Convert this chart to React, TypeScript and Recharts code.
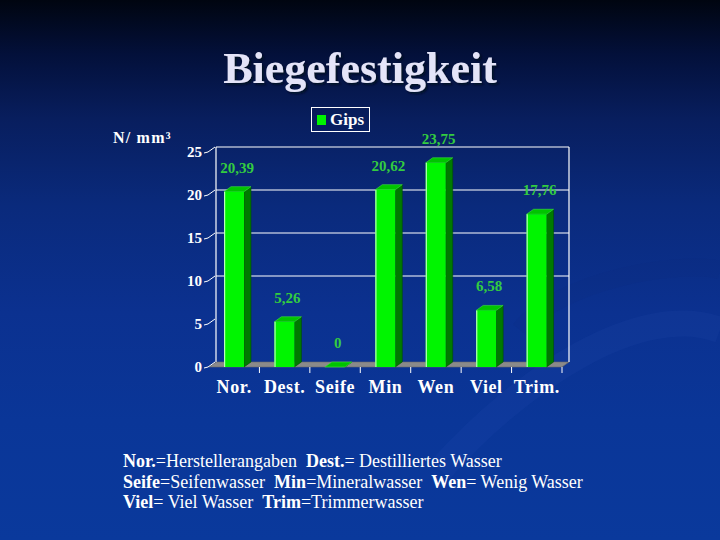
import React from 'react';
import { BarChart, Bar, XAxis, YAxis, CartesianGrid, LabelList, Legend } from 'recharts';

const categories = ['Nor.', 'Dest.', 'Seife', 'Min', 'Wen', 'Viel', 'Trim.'];
const gipsValues = [20.39, 5.26, 0, 20.62, 23.75, 6.58, 17.76];
const yTicks = [0, 5, 10, 15, 20, 25];
const wallGridValues = [10, 15, 20, 25];
const seriesName = 'Gips';
const titleText = 'Biegefestigkeit';
const unitText = 'N/ mm³';

const footnotes: [string, string][][] = [
  [['Nor.', 'b'], ['=Herstellerangaben  ', 'n'], ['Dest.', 'b'], ['= Destilliertes Wasser', 'n']],
  [['Seife', 'b'], ['=Seifenwasser  ', 'n'], ['Min', 'b'], ['=Mineralwasser  ', 'n'], ['Wen', 'b'], ['= Wenig Wasser', 'n']],
  [['Viel', 'b'], ['= Viel Wasser  ', 'n'], ['Trim', 'b'], ['=Trimmerwasser', 'n']],
];

const data = categories.map((c, i) => ({ name: c, [seriesName]: gipsValues[i] }));

const DX = 7;
const DY = 5;
const FONT = '"Liberation Serif", "Times New Roman", serif';
const yMax = yTicks[yTicks.length - 1];

const fmt = (v: number) => String(v).replace('.', ',');

const Bar3D = (props: any) => {
  const { x, y, width, height } = props;
  if (x == null || width == null || y == null) return <g />;
  const h = Math.max(0, height || 0);
  return (
    <g>
      <polygon
        points={`${x + width},${y} ${x + width + DX},${y - DY} ${x + width + DX},${y + h - DY} ${x + width},${y + h}`}
        fill="#007a00"
        stroke="#004d00"
        strokeWidth={0.6}
      />
      <polygon
        points={`${x},${y} ${x + DX},${y - DY} ${x + width + DX},${y - DY} ${x + width},${y}`}
        fill="#00c400"
        stroke="#3fdf3f"
        strokeWidth={0.6}
      />
      {h > 0 && <rect x={x} y={y} width={width} height={h} fill="#00f500" />}
      {h > 0 && <line x1={x + 0.6} y1={y} x2={x + 0.6} y2={y + h} stroke="#b8ffb8" strokeWidth={1.2} />}
    </g>
  );
};

const WallLine = (p: any) => {
  const { x1, x2, y1, y, height } = p;
  const bottom = y + height;
  const v = (yMax * (bottom - y1)) / height;
  if (Math.abs(v) < 0.5) {
    return (
      <g key={p.key}>
        <polygon
          points={`${x1},${y1} ${x1 + DX},${y1 - DY} ${x2 + DX},${y1 - DY} ${x2},${y1}`}
          fill="#8a8a8a"
          stroke="#6a6a6a"
          strokeWidth={0.6}
        />
      </g>
    );
  }
  if (!wallGridValues.some((g) => Math.abs(g - v) < 0.5)) return <g key={p.key} />;
  const isTop = Math.abs(v - yMax) < 0.5;
  return (
    <g key={p.key}>
      <line x1={x1 + DX} y1={y1 - DY} x2={x2 + DX} y2={y1 - DY} stroke="#ffffff" strokeWidth={1.2} />
      {isTop && (
        <>
          <line x1={x1 + DX} y1={y1 - DY} x2={x1 + DX} y2={bottom - DY} stroke="#ffffff" strokeWidth={1.2} />
          <line x1={x2 + DX} y1={y1 - DY} x2={x2 + DX} y2={bottom - DY} stroke="#ffffff" strokeWidth={1.2} />
        </>
      )}
    </g>
  );
};

const YTick = (p: any) => {
  const { x, y, payload } = p;
  return (
    <g>
      <text
        x={x - 7}
        y={y + 5}
        textAnchor="end"
        fill="#ffffff"
        fontFamily={FONT}
        fontWeight="bold"
        fontSize={15}
      >
        {payload.value}
      </text>
      <polyline
        points={`${x - 5},${y + 1} ${x - 1},${y} ${x + DX - 1},${y - DY}`}
        fill="none"
        stroke="#ffffff"
        strokeWidth={1}
      />
    </g>
  );
};

const XTick = (p: any) => {
  const { x, y, payload } = p;
  const off = payload && typeof payload.offset === 'number' ? payload.offset : 0;
  return (
    <g>
      <text
        x={x}
        y={y + 26}
        textAnchor="middle"
        fill="#ffffff"
        fontFamily={FONT}
        fontWeight="bold"
        fontSize={18}
        letterSpacing={0.6}
      >
        {payload.value}
      </text>
      {off > 0 && (
        <line x1={x + off} y1={y} x2={x + off} y2={y + 6} stroke="#ffffff" strokeWidth={1} />
      )}
    </g>
  );
};

const ValueLabel = (p: any) => {
  const { x, y, width, value } = p;
  return (
    <text
      x={x + width / 2 + 3}
      y={y - 19}
      textAnchor="middle"
      fill="#33cc40"
      fontFamily={FONT}
      fontWeight="bold"
      fontSize={15}
    >
      {fmt(value)}
    </text>
  );
};

const LegendBox = (p: any) => {
  const item = p.payload && p.payload[0];
  return (
    <div
      style={{
        position: 'absolute',
        left: 0,
        top: 0,
        width: 57,
        height: 23,
        border: '1px solid #ffffff',
        display: 'flex',
        alignItems: 'center',
      }}
    >
      <span style={{ display: 'inline-block', width: 9, height: 10, background: '#00f500', marginLeft: 5, marginRight: 4 }} />
      <span style={{ fontFamily: FONT, fontWeight: 'bold', fontSize: 17, color: '#ffffff', lineHeight: '20px' }}>
        {item ? item.value : seriesName}
      </span>
    </div>
  );
};

export default function App() {
  return (
    <div
      style={{
        position: 'absolute',
        left: 0,
        top: 0,
        width: 720,
        height: 540,
        overflow: 'hidden',
        background:
          'linear-gradient(180deg, #000510 0%, #03103a 10%, #081e5e 22%, #0a2a7c 38%, #0b3190 58%, #0a3698 78%, #0a399c 100%)',
      }}
    >
      <svg width={720} height={540} style={{ position: 'absolute', left: 0, top: 0 }}>
        <path d="M 440 470 C 520 380, 640 300, 720 330" fill="none" stroke="rgba(60,100,200,0.08)" strokeWidth={26} />
        <path d="M 520 330 C 560 280, 680 260, 720 270" fill="none" stroke="rgba(20,40,120,0.10)" strokeWidth={18} />
      </svg>
      <div style={{ position: 'absolute', left: 0, top: 0 }}>
        <BarChart
          width={720}
          height={540}
          data={data}
          margin={{ top: 152, right: 158, left: 179, bottom: 143 }}
        >
          <CartesianGrid vertical={false} horizontal={WallLine as any} />
          <XAxis
            dataKey="name"
            height={30}
            tickSize={0}
            tickMargin={0}
            axisLine={false}
            tickLine={false}
            tick={<XTick />}
            interval={0}
          />
          <YAxis
            width={30}
            domain={[0, yMax]}
            ticks={yTicks}
            tickSize={0}
            tickMargin={0}
            axisLine={false}
            tickLine={false}
            tick={<YTick />}
          />
          <Legend
            content={<LegendBox />}
            wrapperStyle={{ position: 'absolute', left: 311, top: 107, width: 0, height: 0 }}
          />
          <Bar dataKey={seriesName} barSize={20} isAnimationActive={false} shape={<Bar3D />} fill="#00f500">
            <LabelList dataKey={seriesName} content={<ValueLabel />} />
          </Bar>
        </BarChart>
      </div>
      <svg width={720} height={540} style={{ position: 'absolute', left: 0, top: 0, pointerEvents: 'none' }}>
        <defs>
          <filter id="titleShadow" x="-10%" y="-30%" width="120%" height="160%">
            <feDropShadow dx={2} dy={2} stdDeviation={0.8} floodColor="#000820" floodOpacity={0.85} />
          </filter>
        </defs>
        <text
          x={360}
          y={83}
          textAnchor="middle"
          fill="#e4e4f8"
          fontFamily={FONT}
          fontWeight="bold"
          fontSize={44}
          filter="url(#titleShadow)"
        >
          {titleText}
        </text>
        <text x={113} y={143} fill="#ffffff" fontFamily={FONT} fontWeight="bold" fontSize={16} letterSpacing={1.2}>
          {unitText}
        </text>
        {footnotes.map((line, li) => (
          <text
            key={li}
            x={123}
            y={467 + li * 20.5}
            fill="#ffffff"
            fontFamily={FONT}
            fontSize={18}
            style={{ whiteSpace: 'pre' }}
          >
            {line.map(([t, w], i) => (
              <tspan key={i} fontWeight={w === 'b' ? 'bold' : 'normal'}>
                {t}
              </tspan>
            ))}
          </text>
        ))}
      </svg>
    </div>
  );
}
